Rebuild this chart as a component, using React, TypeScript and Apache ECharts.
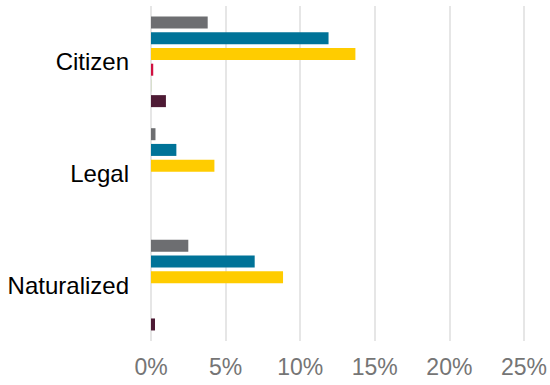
import React, { useEffect, useRef } from "react";
import * as echarts from "echarts";

const categories = ["Citizen", "Legal", "Naturalized"];
const seriesNames = ["Series 1", "Series 2", "Series 3", "Series 4", "Series 5", "Series 6"];
const seriesColors = ["#6d6e71", "#007398", "#ffcc00", "#d01040", "#d3dcc4", "#4d1a34"];
const seriesValues = [
  [3.8, 0.3, 2.5],
  [11.9, 1.7, 6.95],
  [13.7, 4.25, 8.85],
  [0.15, 0, 0],
  [0.05, 0, 0],
  [1.0, 0, 0.27],
];
const xTicks = [0, 5, 10, 15, 20, 25];

export default function App() {
  const ref = useRef<HTMLDivElement>(null);
  useEffect(() => {
    document.body.style.margin = "0";
    if (!ref.current) return;
    const chart = echarts.init(ref.current, undefined, { renderer: "svg" });
    const font = "'Liberation Sans', Arial, sans-serif";
    chart.setOption({
      animation: false,
      grid: { left: 151, right: 24, top: 6, bottom: 44, containLabel: false },
      xAxis: {
        type: "value",
        min: xTicks[0],
        max: xTicks[xTicks.length - 1],
        interval: 5,
        axisLine: { show: false },
        axisTick: { show: false },
        splitLine: { show: true, lineStyle: { color: "#e6e6e6", width: 2 } },
        axisLabel: {
          formatter: "{value}%",
          color: "#757575",
          fontSize: 23,
          fontFamily: font,
          margin: 14,
        },
      },
      yAxis: {
        type: "category",
        data: categories,
        inverse: true,
        axisLine: { show: false },
        axisTick: { show: false },
        splitLine: { show: false },
        axisLabel: { color: "#000", fontSize: 24, fontFamily: font, margin: 22 },
      },
      series: seriesNames.map((name, i) => ({
        name,
        type: "bar",
        data: seriesValues[i],
        barWidth: 12,
        barGap: "31%",
        itemStyle: { color: seriesColors[i] },
      })),
    });
    return () => chart.dispose();
  }, []);
  return <div ref={ref} style={{ width: 550, height: 385 }} />;
}
